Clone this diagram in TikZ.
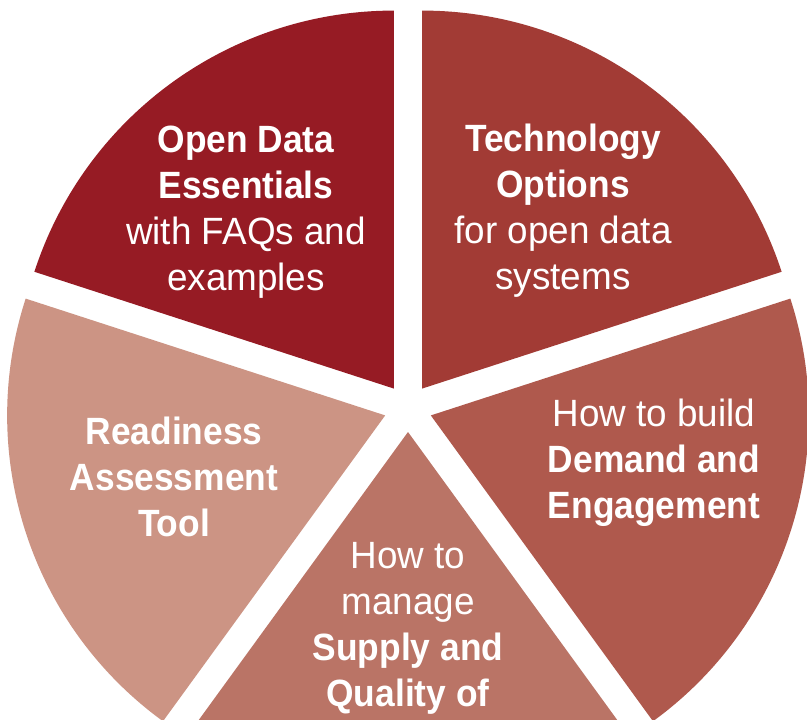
\documentclass[tikz,border=0pt]{standalone}
\usepackage{fontspec}
\setmainfont{Liberation Sans}[FakeStretch=0.97, BoldFeatures={FakeStretch=0.93}]
\definecolor{sliceA}{HTML}{961B24}
\definecolor{sliceB}{HTML}{A23B35}
\definecolor{sliceC}{HTML}{AF594D}
\definecolor{sliceD}{HTML}{BA7466}
\definecolor{sliceE}{HTML}{CC9484}
\begin{document}
\begin{tikzpicture}[x=1pt,y=1pt]
\tikzset{slicelabel/.style={text=white, align=center, inner sep=0pt, font=\fontsize{38}{46}\selectfont}}
\useasboundingbox (0,-720) rectangle (807,0);
\clip (0,-720) rectangle (807,0);
\fill[white] (0,-720) rectangle (807,0);
\coordinate (C) at (408,-408);
\begin{scope}[shift={(C)}]
  \fill[sliceA] (126:24) -- ++(90:378) arc[start angle=90,end angle=162,radius=378] -- cycle;
  \fill[sliceE] (198:24) -- ++(162:378) arc[start angle=162,end angle=234,radius=378] -- cycle;
  \fill[sliceD] (270:24) -- ++(234:378) arc[start angle=234,end angle=306,radius=378] -- cycle;
  \fill[sliceC] (342:24) -- ++(306:378) arc[start angle=306,end angle=378,radius=378] -- cycle;
  \fill[sliceB] (54:24) -- ++(18:378) arc[start angle=18,end angle=90,radius=378] -- cycle;
\end{scope}
\node[slicelabel] (essentials) at (246,-212) {\strut\textbf{Open Data}\\\strut\textbf{Essentials}\\\strut with FAQs and\\\strut examples};
\node[slicelabel] (technology) at (563,-211) {\strut\textbf{Technology}\\\strut\textbf{Options}\\\strut for open data\\\strut systems};
\node[slicelabel] (readiness) at (174,-481) {\strut\textbf{Readiness}\\\strut\textbf{Assessment}\\\strut\textbf{Tool}};
\node[slicelabel] (demand) at (654,-463) {\strut How to build\\\strut\textbf{Demand and}\\\strut\textbf{Engagement}};
\node[slicelabel] (supply) at (408,-628) {\strut How to\\\strut manage\\\strut\textbf{Supply and}\\\strut\textbf{Quality of}};
\end{tikzpicture}
\end{document}
